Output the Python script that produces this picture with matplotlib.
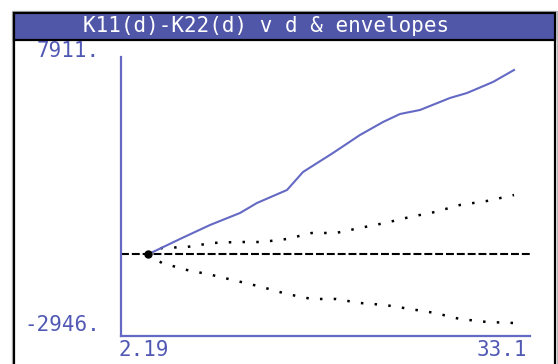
import matplotlib
matplotlib.use("Agg")
import matplotlib.pyplot as plt
from matplotlib.patches import Rectangle

# K11(d)-K22(d) against distance d, with simulation envelopes
d_obs = [2.19, 4.89, 7.43, 9.96, 11.39, 13.93, 15.28, 17.81, 20.09, 22.04,
         23.47, 25.16, 27.69, 29.13, 31.32, 33.1]
k_obs = [0, 659, 1260, 1775, 2204, 2762, 3534, 4349, 5122, 5680,
         6023, 6195, 6710, 6924, 7396, 7911]

d_env = [2.19, 3.37, 5.48, 7.59, 9.70, 11.80, 13.91, 16.02, 18.05, 20.07,
         22.20, 24.31, 26.42, 28.53, 30.81, 33.1]
k_upper = [0, 273, 316, 487, 530, 530, 659, 917, 917, 1131,
           1346, 1603, 1818, 2118, 2290, 2547]
k_lower = [0, -371, -671, -886, -1143, -1400, -1701, -1915, -1915, -2087,
           -2173, -2344, -2516, -2774, -2902, -2946]

title = "K11(d)-K22(d) v d & envelopes"
ymin_label, ymax_label = "-2946.", "7911."
xmin_label, xmax_label = "2.19", "33.1"

W, H = 558, 364
blue = "#6469c4"
text_blue = "#5058b4"
mono = "DejaVu Sans Mono"
fs = 15

fig = plt.figure(figsize=(W / 100, H / 100), dpi=100)

def fx(px):
    return px / W

def fy(py):
    return 1 - py / H

# outer frame and title bar
fig.patches.append(Rectangle((fx(12), fy(380)), fx(545), (380 - 11) / H,
                             transform=fig.transFigure, fill=False,
                             edgecolor="#b8b8b8", lw=1))
fig.patches.append(Rectangle((fx(14), fy(380)), fx(541), (380 - 13) / H,
                             transform=fig.transFigure, fill=False,
                             edgecolor="black", lw=1.6))
fig.patches.append(Rectangle((fx(14), fy(40)), fx(541), 27 / H,
                             transform=fig.transFigure, facecolor="#5157a8",
                             edgecolor="black", lw=1.6))
fig.text(fx(266), fy(26.5), title, color="white", family=mono,
         fontsize=fs, ha="center", va="center")

# plot area
ax = fig.add_axes([fx(121), fy(336), fx(530) - fx(121), fy(57) - fy(336)])
ax.set_xlim(-0.09, 34.45)
ax.set_ylim(-3504, 8469)
for s in ["top", "right"]:
    ax.spines[s].set_visible(False)
for s in ["left", "bottom"]:
    ax.spines[s].set_color(blue)
    ax.spines[s].set_linewidth(1.6)
ax.set_xticks([])
ax.set_yticks([])
ax.patch.set_alpha(0)

ax.axhline(0, color="black", lw=1.5, linestyle=(0, (3.8, 1.4)))
ax.plot(d_env, k_upper, color="black", lw=1.8, linestyle=(0, (1, 4.5)))
ax.plot(d_env, k_lower, color="black", lw=1.8, linestyle=(0, (1, 4.5)))
ax.plot(d_obs, k_obs, color=blue, lw=1.5)
ax.plot(d_obs[0], k_obs[0], "o", color="black", ms=5)

# range labels
fig.text(fx(37), fy(51), ymax_label, color=text_blue, family=mono,
         fontsize=fs, ha="left", va="center")
fig.text(fx(24), fy(325), ymin_label, color=text_blue, family=mono,
         fontsize=fs, ha="left", va="center")
fig.text(fx(118), fy(350), xmin_label, color=text_blue, family=mono,
         fontsize=fs, ha="left", va="center")
fig.text(fx(527), fy(350), xmax_label, color=text_blue, family=mono,
         fontsize=fs, ha="right", va="center")

fig.savefig("out.png", dpi=100)
